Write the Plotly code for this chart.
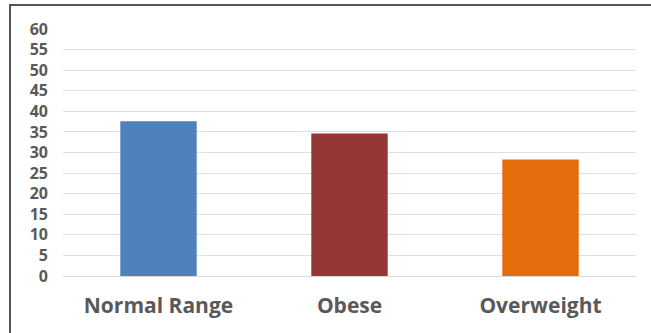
import plotly.graph_objects as go

# BMI category shares
categories = ["Normal Range", "Obese", "Overweight"]
values = [37.6, 34.6, 28.3]
colors = ["#4F81BD", "#953735", "#E46C0A"]
y_ticks = list(range(0, 61, 5))

W, H = 651, 333
L, R, T, B = 63, 15, 29, 57
pw, ph = W - L - R, H - T - B

fig = go.Figure(
    go.Bar(
        x=categories,
        y=values,
        marker=dict(color=colors, line=dict(width=0)),
        width=0.4,
        hoverinfo="x+y",
    )
)

text_color = "#595959"
fig.update_layout(
    width=W,
    height=H,
    margin=dict(l=L, r=R, t=T, b=B),
    paper_bgcolor="white",
    plot_bgcolor="white",
    showlegend=False,
    font=dict(family="Open Sans", color=text_color),
    xaxis=dict(
        showgrid=False,
        showline=True,
        linecolor="#D9D9D9",
        linewidth=1,
        ticks="",
        ticklabelstandoff=11,
        tickfont=dict(size=21, family="Open Sans", weight="bold", color=text_color),
    ),
    yaxis=dict(
        range=[0, 60],
        tickvals=y_ticks,
        showgrid=True,
        gridcolor="#E0E0E0",
        gridwidth=1,
        zeroline=False,
        showline=False,
        ticks="",
        ticklabelstandoff=14,
        tickfont=dict(size=16, family="Open Sans", weight="bold", color=text_color),
    ),
    shapes=[
        dict(
            type="rect",
            xref="paper",
            yref="paper",
            x0=(10 - L) / pw,
            x1=(W + 10 - L) / pw,
            y0=-(B + 10) / ph,
            y1=1 + (T - 5) / ph,
            line=dict(color="#555555", width=2),
            fillcolor="rgba(0,0,0,0)",
            layer="above",
        )
    ],
)

fig.write_html("out.html")
